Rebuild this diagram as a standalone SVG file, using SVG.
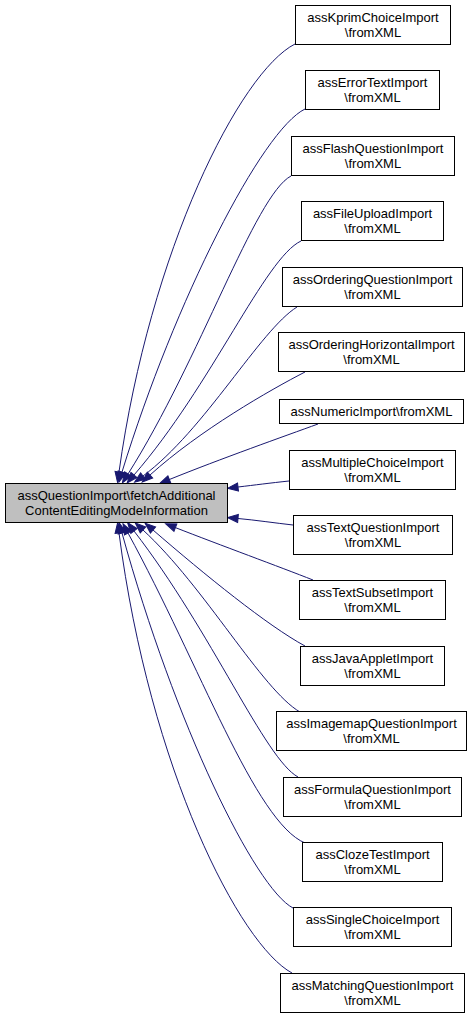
<svg xmlns="http://www.w3.org/2000/svg" width="475" height="1019" viewBox="0 0 475 1019">
<style>
.n rect{fill:#ffffff;stroke:#000000;stroke-width:1}
.n.main rect{fill:#bfbfbf}
.n text{font-family:"Liberation Sans",Arial,sans-serif;font-size:13px;fill:#000000;text-anchor:middle}
.e path{fill:none;stroke:#191970;stroke-width:1}
</style>
<defs>
<marker id="ah" markerUnits="userSpaceOnUse" markerWidth="13" markerHeight="11" viewBox="-1 -1.5 13 11" refX="0" refY="4" orient="auto">
<path d="M0,0 L10.5,4 L0,8 Z" fill="#191970" stroke="#191970" stroke-width="1"/>
</marker>
</defs>
<rect width="475" height="1019" fill="#ffffff"/>
<g id="edges" class="e">
<path marker-end="url(#ah)" d="M295,44 C240,72 150,250 119,472"/>
<path marker-end="url(#ah)" d="M305,109 C262,130 175,300 122,472"/>
<path marker-end="url(#ah)" d="M291,176 C255,195 200,360 128,474"/>
<path marker-end="url(#ah)" d="M301,241 C265,258 212,385 134,475"/>
<path marker-end="url(#ah)" d="M297,307 C260,330 205,430 143,476"/>
<path marker-end="url(#ah)" d="M305,372 C270,390 200,430 150,475"/>
<path marker-end="url(#ah)" d="M318,424 C285,436 220,459 169.4,479.5"/>
<path marker-end="url(#ah)" d="M289,481 C270,483 255,485 238,487"/>
<path marker-end="url(#ah)" d="M293,525 C275,523 255,520 238,518.5"/>
<path marker-end="url(#ah)" d="M313,580 C280,567 220,545 175.4,527.6"/>
<path marker-end="url(#ah)" d="M305,646 C268,626 205,575 153,530"/>
<path marker-end="url(#ah)" d="M300,712 C262,690 205,587 143,530"/>
<path marker-end="url(#ah)" d="M298,777 C265,759 212,632 134,531"/>
<path marker-end="url(#ah)" d="M305,843 C255,822 200,665 128,533"/>
<path marker-end="url(#ah)" d="M293,908 C255,888 175,725 122,533"/>
<path marker-end="url(#ah)" d="M292,973 C240,945 150,770 119,533"/>
</g>
<g id="node-main" class="n main">
<rect x="5.5" y="483.5" width="222" height="39"/>
<text x="116.5" y="499.5">assQuestionImport\fetchAdditional</text>
<text x="116.5" y="514.5">ContentEditingModeInformation</text>
</g>
<g id="node-kprim" class="n">
<rect x="295.5" y="5.5" width="155" height="39"/>
<text x="373" y="21.5">assKprimChoiceImport</text>
<text x="373" y="36.5">\fromXML</text>
</g>
<g id="node-errortext" class="n">
<rect x="305.5" y="70.5" width="134" height="39"/>
<text x="372.5" y="86.5">assErrorTextImport</text>
<text x="372.5" y="101.5">\fromXML</text>
</g>
<g id="node-flash" class="n">
<rect x="291.5" y="136.5" width="163" height="39"/>
<text x="373" y="152.5">assFlashQuestionImport</text>
<text x="373" y="167.5">\fromXML</text>
</g>
<g id="node-fileupload" class="n">
<rect x="301.5" y="201.5" width="142" height="39"/>
<text x="372.5" y="217.5">assFileUploadImport</text>
<text x="372.5" y="232.5">\fromXML</text>
</g>
<g id="node-ordering" class="n">
<rect x="282.5" y="267.5" width="180" height="39"/>
<text x="372.5" y="283.5">assOrderingQuestionImport</text>
<text x="372.5" y="298.5">\fromXML</text>
</g>
<g id="node-orderinghorizontal" class="n">
<rect x="278.5" y="332.5" width="186" height="39"/>
<text x="371.5" y="348.5">assOrderingHorizontalImport</text>
<text x="371.5" y="363.5">\fromXML</text>
</g>
<g id="node-numeric" class="n">
<rect x="279.5" y="399.5" width="184" height="24"/>
<text x="371.5" y="416">assNumericImport\fromXML</text>
</g>
<g id="node-multiplechoice" class="n">
<rect x="289.5" y="450.5" width="166" height="39"/>
<text x="372.5" y="466.5">assMultipleChoiceImport</text>
<text x="372.5" y="481.5">\fromXML</text>
</g>
<g id="node-textquestion" class="n">
<rect x="293.5" y="515.5" width="159" height="39"/>
<text x="373" y="531.5">assTextQuestionImport</text>
<text x="373" y="546.5">\fromXML</text>
</g>
<g id="node-textsubset" class="n">
<rect x="299.5" y="580.5" width="146" height="39"/>
<text x="372.5" y="596.5">assTextSubsetImport</text>
<text x="372.5" y="611.5">\fromXML</text>
</g>
<g id="node-javaapplet" class="n">
<rect x="300.5" y="646.5" width="144" height="39"/>
<text x="372.5" y="662.5">assJavaAppletImport</text>
<text x="372.5" y="677.5">\fromXML</text>
</g>
<g id="node-imagemap" class="n">
<rect x="276.5" y="711.5" width="190" height="39"/>
<text x="371.5" y="727.5">assImagemapQuestionImport</text>
<text x="371.5" y="742.5">\fromXML</text>
</g>
<g id="node-formula" class="n">
<rect x="283.5" y="777.5" width="178" height="39"/>
<text x="372.5" y="793.5">assFormulaQuestionImport</text>
<text x="372.5" y="808.5">\fromXML</text>
</g>
<g id="node-cloze" class="n">
<rect x="302.5" y="842.5" width="140" height="39"/>
<text x="372.5" y="858.5">assClozeTestImport</text>
<text x="372.5" y="873.5">\fromXML</text>
</g>
<g id="node-singlechoice" class="n">
<rect x="293.5" y="907.5" width="158" height="39"/>
<text x="372.5" y="923.5">assSingleChoiceImport</text>
<text x="372.5" y="938.5">\fromXML</text>
</g>
<g id="node-matching" class="n">
<rect x="280.5" y="973.5" width="184" height="39"/>
<text x="372.5" y="989.5">assMatchingQuestionImport</text>
<text x="372.5" y="1004.5">\fromXML</text>
</g>
</svg>
